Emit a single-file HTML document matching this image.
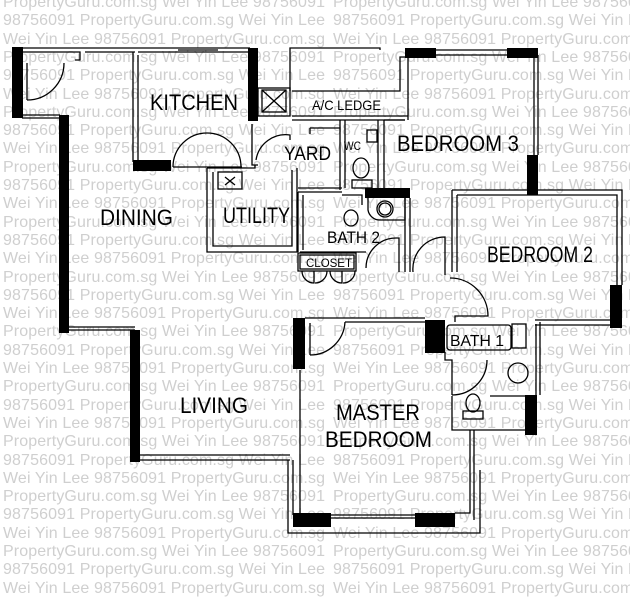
<!DOCTYPE html>
<html><head><meta charset="utf-8"><style>
html,body{margin:0;padding:0;background:#fff}
svg{display:block}
.w{font-family:"Liberation Sans",sans-serif;font-size:16px;fill:#cfcfcf}
.l{font-family:"Liberation Sans",sans-serif;fill:#000}
.s{fill:none;stroke:#000;stroke-width:1.3}
.b{fill:#000}
</style></head><body>
<svg width="630" height="600" viewBox="0 0 630 600" xmlns="http://www.w3.org/2000/svg">
<g class="w">
<text x="3" y="7" textLength="322">PropertyGuru.com.sg Wei Yin Lee 98756091</text><text x="333" y="7" textLength="322">PropertyGuru.com.sg Wei Yin Lee 98756091</text>
<text x="3" y="25" textLength="322">98756091 PropertyGuru.com.sg Wei Yin Lee</text><text x="333" y="25" textLength="322">98756091 PropertyGuru.com.sg Wei Yin Lee</text>
<text x="3" y="44" textLength="322">Wei Yin Lee 98756091 PropertyGuru.com.sg</text><text x="333" y="44" textLength="322">Wei Yin Lee 98756091 PropertyGuru.com.sg</text>
<text x="3" y="62" textLength="322">PropertyGuru.com.sg Wei Yin Lee 98756091</text><text x="333" y="62" textLength="322">PropertyGuru.com.sg Wei Yin Lee 98756091</text>
<text x="3" y="80" textLength="322">98756091 PropertyGuru.com.sg Wei Yin Lee</text><text x="333" y="80" textLength="322">98756091 PropertyGuru.com.sg Wei Yin Lee</text>
<text x="3" y="99" textLength="322">Wei Yin Lee 98756091 PropertyGuru.com.sg</text><text x="333" y="99" textLength="322">Wei Yin Lee 98756091 PropertyGuru.com.sg</text>
<text x="3" y="117" textLength="322">PropertyGuru.com.sg Wei Yin Lee 98756091</text><text x="333" y="117" textLength="322">PropertyGuru.com.sg Wei Yin Lee 98756091</text>
<text x="3" y="135" textLength="322">98756091 PropertyGuru.com.sg Wei Yin Lee</text><text x="333" y="135" textLength="322">98756091 PropertyGuru.com.sg Wei Yin Lee</text>
<text x="3" y="153" textLength="322">Wei Yin Lee 98756091 PropertyGuru.com.sg</text><text x="333" y="153" textLength="322">Wei Yin Lee 98756091 PropertyGuru.com.sg</text>
<text x="3" y="172" textLength="322">PropertyGuru.com.sg Wei Yin Lee 98756091</text><text x="333" y="172" textLength="322">PropertyGuru.com.sg Wei Yin Lee 98756091</text>
<text x="3" y="190" textLength="322">98756091 PropertyGuru.com.sg Wei Yin Lee</text><text x="333" y="190" textLength="322">98756091 PropertyGuru.com.sg Wei Yin Lee</text>
<text x="3" y="208" textLength="322">Wei Yin Lee 98756091 PropertyGuru.com.sg</text><text x="333" y="208" textLength="322">Wei Yin Lee 98756091 PropertyGuru.com.sg</text>
<text x="3" y="227" textLength="322">PropertyGuru.com.sg Wei Yin Lee 98756091</text><text x="333" y="227" textLength="322">PropertyGuru.com.sg Wei Yin Lee 98756091</text>
<text x="3" y="245" textLength="322">98756091 PropertyGuru.com.sg Wei Yin Lee</text><text x="333" y="245" textLength="322">98756091 PropertyGuru.com.sg Wei Yin Lee</text>
<text x="3" y="263" textLength="322">Wei Yin Lee 98756091 PropertyGuru.com.sg</text><text x="333" y="263" textLength="322">Wei Yin Lee 98756091 PropertyGuru.com.sg</text>
<text x="3" y="282" textLength="322">PropertyGuru.com.sg Wei Yin Lee 98756091</text><text x="333" y="282" textLength="322">PropertyGuru.com.sg Wei Yin Lee 98756091</text>
<text x="3" y="300" textLength="322">98756091 PropertyGuru.com.sg Wei Yin Lee</text><text x="333" y="300" textLength="322">98756091 PropertyGuru.com.sg Wei Yin Lee</text>
<text x="3" y="318" textLength="322">Wei Yin Lee 98756091 PropertyGuru.com.sg</text><text x="333" y="318" textLength="322">Wei Yin Lee 98756091 PropertyGuru.com.sg</text>
<text x="3" y="336" textLength="322">PropertyGuru.com.sg Wei Yin Lee 98756091</text><text x="333" y="336" textLength="322">PropertyGuru.com.sg Wei Yin Lee 98756091</text>
<text x="3" y="355" textLength="322">98756091 PropertyGuru.com.sg Wei Yin Lee</text><text x="333" y="355" textLength="322">98756091 PropertyGuru.com.sg Wei Yin Lee</text>
<text x="3" y="373" textLength="322">Wei Yin Lee 98756091 PropertyGuru.com.sg</text><text x="333" y="373" textLength="322">Wei Yin Lee 98756091 PropertyGuru.com.sg</text>
<text x="3" y="391" textLength="322">PropertyGuru.com.sg Wei Yin Lee 98756091</text><text x="333" y="391" textLength="322">PropertyGuru.com.sg Wei Yin Lee 98756091</text>
<text x="3" y="410" textLength="322">98756091 PropertyGuru.com.sg Wei Yin Lee</text><text x="333" y="410" textLength="322">98756091 PropertyGuru.com.sg Wei Yin Lee</text>
<text x="3" y="428" textLength="322">Wei Yin Lee 98756091 PropertyGuru.com.sg</text><text x="333" y="428" textLength="322">Wei Yin Lee 98756091 PropertyGuru.com.sg</text>
<text x="3" y="446" textLength="322">PropertyGuru.com.sg Wei Yin Lee 98756091</text><text x="333" y="446" textLength="322">PropertyGuru.com.sg Wei Yin Lee 98756091</text>
<text x="3" y="465" textLength="322">98756091 PropertyGuru.com.sg Wei Yin Lee</text><text x="333" y="465" textLength="322">98756091 PropertyGuru.com.sg Wei Yin Lee</text>
<text x="3" y="483" textLength="322">Wei Yin Lee 98756091 PropertyGuru.com.sg</text><text x="333" y="483" textLength="322">Wei Yin Lee 98756091 PropertyGuru.com.sg</text>
<text x="3" y="501" textLength="322">PropertyGuru.com.sg Wei Yin Lee 98756091</text><text x="333" y="501" textLength="322">PropertyGuru.com.sg Wei Yin Lee 98756091</text>
<text x="3" y="519" textLength="322">98756091 PropertyGuru.com.sg Wei Yin Lee</text><text x="333" y="519" textLength="322">98756091 PropertyGuru.com.sg Wei Yin Lee</text>
<text x="3" y="538" textLength="322">Wei Yin Lee 98756091 PropertyGuru.com.sg</text><text x="333" y="538" textLength="322">Wei Yin Lee 98756091 PropertyGuru.com.sg</text>
<text x="3" y="556" textLength="322">PropertyGuru.com.sg Wei Yin Lee 98756091</text><text x="333" y="556" textLength="322">PropertyGuru.com.sg Wei Yin Lee 98756091</text>
<text x="3" y="574" textLength="322">98756091 PropertyGuru.com.sg Wei Yin Lee</text><text x="333" y="574" textLength="322">98756091 PropertyGuru.com.sg Wei Yin Lee</text>
<text x="3" y="593" textLength="322">Wei Yin Lee 98756091 PropertyGuru.com.sg</text><text x="333" y="593" textLength="322">Wei Yin Lee 98756091 PropertyGuru.com.sg</text>
</g>

<g class="s">
<polyline points="22,48 250,48"/><polyline points="22,52 80,52 80,60 75,60"/>
<polyline points="85,52 135,52"/><polyline points="138,52 250,52"/>
<polyline points="178,50 218,50"/>
<path d="M27,100 L27,63 M27,100 A37,37 0 0 0 64,63"/>
<polyline points="22,115 60,115"/><polyline points="22,118 60,118"/>
<polyline points="133,52 133,162"/><polyline points="138,55 138,160"/>
<path d="M173,167 L242,167 M173,167 A34,34 0 0 1 241,167"/>
<polyline points="207,168 207,252 297,252 297,168"/><polyline points="213,172 213,246 292,246 292,170"/>
<polyline points="207,168 255,168 255,165"/>
<rect x="218" y="172" width="24" height="17"/>
<path d="M225,177 L235,185 M235,177 L225,185"/>
<rect x="258" y="88" width="32" height="28"/>
<rect x="262" y="90" width="24" height="22"/>
<path d="M262,90 L286,112 M286,90 L262,112"/>
<polyline points="290,91 290,48 380,48 380,50"/>
<polyline points="292,116 408,116"/><polyline points="292,120 405,120"/>
<polyline points="292,91 400,91 400,57 408,57"/>
<path d="M256,160 A30,30 0 0 1 290,135 L290,140"/>
<polyline points="252,124 252,165 258,165"/>
<polyline points="340,120 340,190"/><polyline points="345,120 345,188"/>
<polyline points="378,120 378,188"/><polyline points="384,120 384,188"/>
<rect x="367" y="130" width="10" height="12"/>
<ellipse cx="361" cy="168" rx="8" ry="10"/>
<rect x="352" y="180" width="20" height="8"/>
<polyline points="310,128 310,134"/><polyline points="310,128 340,128"/>
<polyline points="298,188 342,188"/><polyline points="298,192 342,192"/>
<polyline points="298,192 298,252"/><polyline points="303,195 303,250"/>
<polyline points="342,195 362,195 362,205"/>
<ellipse cx="351" cy="218" rx="7" ry="8"/>
<path d="M368,198 L368,210 A12,12 0 0 0 380,220 L405,220 L405,198"/>
<circle cx="385" cy="209" r="8"/><circle cx="385" cy="209" r="6"/>
<polyline points="405,198 405,272"/><polyline points="410,198 410,272"/>
<path d="M366,268 A30,30 0 0 1 396,238 L399,238 L399,272"/>
<polyline points="300,252 366,252"/>
<rect x="298" y="253" width="58" height="18"/><rect x="300" y="255" width="54" height="14"/>
<path d="M302,271 A12,12 0 0 0 314,283 L314,271 M327,271 A12,12 0 0 1 315,283 M330,271 A12,12 0 0 0 342,283 L342,271 M355,271 A12,12 0 0 1 343,283"/>
<path d="M413,272 A32,32 0 0 1 445,237 L445,275"/>
<path d="M450,278 A38,38 0 0 1 488,316 L455,316 L455,322"/>
<polyline points="405,50 538,50"/><polyline points="408,55 535,55"/>
<polyline points="534,55 534,155"/><polyline points="538,55 538,155"/>
<polyline points="408,57 408,120"/><polyline points="384,120 405,120"/>
<polyline points="452,190 622,190 622,285"/><polyline points="457,195 617,195 617,285"/>
<polyline points="452,190 452,272"/><polyline points="457,195 457,272"/>
<polyline points="535,325 610,325"/><polyline points="535,320 610,320"/>
<polyline points="68,330 135,330"/><polyline points="68,327 135,327"/>
<polyline points="140,455 290,455"/><polyline points="140,460 290,460"/>
<polyline points="305,318 425,318"/><polyline points="345,322 425,322"/>
<path d="M310,355 A35,35 0 0 0 345,322 M310,323 L310,355"/>
<polyline points="288,460 288,533 480,533 480,470"/>
<polyline points="293,460 293,515"/>
<polyline points="300,370 300,513"/><polyline points="331,515 415,515"/><polyline points="331,518 415,518"/>
<polyline points="455,513 470,513 470,430"/><polyline points="474,520 474,430"/>
<rect x="447" y="325" width="64" height="25" rx="3"/>
<rect x="512" y="324" width="14" height="24"/>
<polyline points="445,352 445,360 452,360 452,395"/>
<path d="M452,395 A35,35 0 0 0 487,360"/>
<polyline points="536,324 536,395"/><polyline points="540,322 540,395"/>
<circle cx="518" cy="373" r="10"/>
<ellipse cx="473" cy="403" rx="7" ry="9"/><rect x="463" y="411" width="20" height="8"/>
<polyline points="452,396 452,430 525,430"/><polyline points="490,396 525,396"/>
</g>

<g class="b">
<rect x="12" y="47" width="11" height="71"/>
<rect x="59" y="115" width="10" height="218"/>
<rect x="133" y="160" width="38" height="11"/>
<rect x="248" y="48" width="10" height="73"/>
<rect x="405" y="48" width="31" height="10"/>
<rect x="507" y="48" width="31" height="10"/>
<rect x="527" y="155" width="11" height="40"/>
<rect x="365" y="188" width="45" height="10"/>
<rect x="610" y="285" width="12" height="43"/>
<rect x="130" y="330" width="10" height="132"/>
<rect x="293" y="318" width="12" height="51"/>
<rect x="425" y="320" width="20" height="33"/>
<rect x="293" y="513" width="38" height="14"/>
<rect x="415" y="513" width="40" height="14"/>
<rect x="525" y="395" width="12" height="40"/>
</g>

<g class="l">
<text x="150" y="110" font-size="22" textLength="88" lengthAdjust="spacingAndGlyphs">KITCHEN</text>
<text x="100" y="225" font-size="22" textLength="73" lengthAdjust="spacingAndGlyphs">DINING</text>
<text x="223" y="223" font-size="22" textLength="67" lengthAdjust="spacingAndGlyphs">UTILITY</text>
<text x="284" y="160" font-size="19" textLength="47" lengthAdjust="spacingAndGlyphs">YARD</text>
<text x="344" y="150" font-size="12" textLength="17" lengthAdjust="spacingAndGlyphs">WC</text>
<text x="312" y="110" font-size="14" textLength="69" lengthAdjust="spacingAndGlyphs">A/C LEDGE</text>
<text x="397" y="151" font-size="22" textLength="122" lengthAdjust="spacingAndGlyphs">BEDROOM 3</text>
<text x="487" y="262" font-size="22" textLength="106" lengthAdjust="spacingAndGlyphs">BEDROOM 2</text>
<text x="327" y="243" font-size="17" textLength="53" lengthAdjust="spacingAndGlyphs">BATH 2</text>
<text x="306" y="267" font-size="12" textLength="46" lengthAdjust="spacingAndGlyphs">CLOSET</text>
<text x="450" y="346" font-size="16" textLength="54" lengthAdjust="spacingAndGlyphs">BATH 1</text>
<text x="180" y="413" font-size="22" textLength="68" lengthAdjust="spacingAndGlyphs">LIVING</text>
<text x="336" y="420" font-size="22" textLength="84" lengthAdjust="spacingAndGlyphs">MASTER</text>
<text x="325" y="447" font-size="22" textLength="107" lengthAdjust="spacingAndGlyphs">BEDROOM</text>
</g>
</svg>
</body></html>
